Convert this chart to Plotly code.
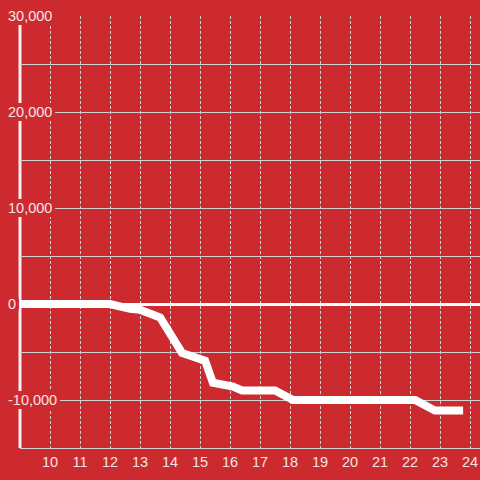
import plotly.graph_objects as go

# data
hours = [9, 12, 12.67, 13, 13.67, 14.4, 15.17, 15.43, 16.1, 16.4, 17.5, 18.1, 22.17, 22.83, 23.77]
values = [0, 0, -500, -600, -1400, -5100, -5900, -8200, -8600, -9000, -9000, -10000, -10000, -11100, -11100]
x_ticks = list(range(10, 25))
y_ticks = [-10000, 0, 10000, 20000, 30000]
y_tick_labels = ["-10,000", "0", "10,000", "20,000", "30,000"]

BG = "#cc2a2f"
TXT = "#f3e4e4"
GRID = "#d2d2d2"

shadow = ", ".join(f"{BG} {dx}px {dy}px 0px" for dx in range(-3, 4) for dy in range(-4, 5))

fig = go.Figure()
fig.add_trace(go.Scatter(x=hours, y=values, mode="lines",
                         line=dict(color="white", width=8), showlegend=False,
                         hoverinfo="skip"))

fig.update_layout(
    width=480, height=480,
    margin=dict(l=0, r=0, t=16, b=32),
    paper_bgcolor=BG, plot_bgcolor=BG,
    font=dict(family="Liberation Sans, Arial, sans-serif", size=14.5, color=TXT),
    xaxis=dict(
        domain=[20 / 480, 1], range=[9, 24.3333],
        tickvals=x_ticks, ticks="", showgrid=True, gridcolor=GRID, gridwidth=1,
        griddash="3px,2px", zeroline=False,
        showline=True, linecolor=GRID, linewidth=1,
        tickfont=dict(size=14.5, color=TXT), ticklabelstandoff=1,
    ),
    yaxis=dict(
        anchor="free", position=0, side="right",
        range=[-15000, 30000], tickvals=y_ticks, ticktext=y_tick_labels,
        ticks="", showgrid=True, gridcolor=GRID, gridwidth=1,
        minor=dict(dtick=5000, showgrid=True, gridcolor=GRID, gridwidth=1),
        zeroline=True, zerolinecolor="white", zerolinewidth=3,
        showline=False, ticklabelstandoff=7,
        tickfont=dict(size=14.5, color=TXT, shadow=shadow),
    ),
    shapes=[dict(
        type="line", xref="x domain", yref="y domain",
        x0=0, x1=0, y0=0, y1=1, layer="below",
        line=dict(color="#f4f0f0", width=3),
    )],
)

fig.write_html(
    "out.html",
    config={"displayModeBar": False},
    post_script="document.body.style.margin='0';document.body.style.background='#cc2a2f';",
)
